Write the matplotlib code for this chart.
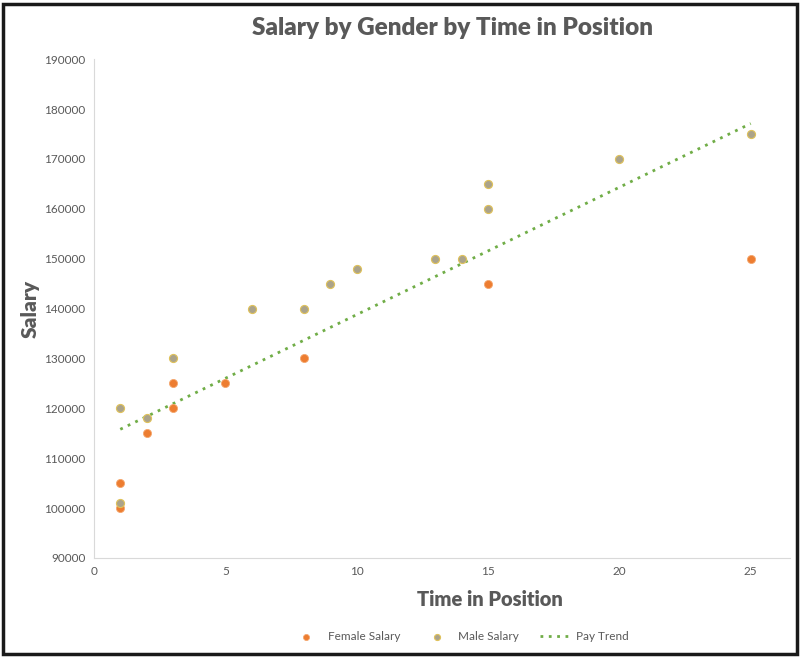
import matplotlib
matplotlib.use('Agg')
import matplotlib.pyplot as plt
from matplotlib.patches import Rectangle

# Values
female_years = [1, 1, 2, 3, 3, 5, 8, 15, 25]
female_salary = [100000, 105000, 115000, 120000, 125000, 125000, 130000, 145000, 150000]

male_years = [1, 1, 2, 3, 6, 8, 9, 10, 13, 14, 15, 15, 20, 25]
male_salary = [101000, 120000, 118000, 130000, 140000, 140000, 145000, 148000,
               150000, 150000, 160000, 165000, 170000, 175000]

# Trend line end points as drawn
trend_years = [1, 25]
trend_salary = [115800, 177100]

x_ticks = [0, 5, 10, 15, 20, 25]
y_ticks = list(range(90000, 190001, 10000))

plt.rcParams['font.family'] = ['Lato', 'DejaVu Sans']

fig = plt.figure(figsize=(8.02, 6.58), dpi=100)
ax = fig.add_axes([0.1172, 0.152, 0.868, 0.758])

ax.scatter(female_years, female_salary, s=34, color='#ED7D31',
           edgecolors='#F4A76E', linewidths=0.6, label='Female Salary', zorder=3)
ax.scatter(male_years, male_salary, s=34, color='#ABA38A',
           edgecolors='#E0C25A', linewidths=0.8, label='Male Salary', zorder=3)
ax.plot(trend_years, trend_salary, color='#70AD47', linestyle=(0, (1, 2)),
        linewidth=2, label='Pay Trend', zorder=2)

ax.set_xlim(0, 26.5)
ax.set_ylim(90000, 190000)
ax.set_xticks(x_ticks)
ax.set_yticks(y_ticks)
ax.tick_params(length=0, labelsize=8.5, colors='#595959', pad=6)

for side in ['top', 'right']:
    ax.spines[side].set_visible(False)
for side in ['left', 'bottom']:
    ax.spines[side].set_color('#D9D9D9')

fig.text(453 / 802, 1 - 28 / 658, 'Salary by Gender by Time in Position',
         fontsize=17.5, fontweight='heavy', color='#595959',
         ha='center', va='center')
ax.set_xlabel('Time in Position', fontsize=14.5, fontweight='heavy',
              color='#595959')
ax.xaxis.set_label_coords((490 - 94) / 696, -32 / 499)
ax.set_ylabel('Salary', fontsize=15, fontweight='heavy', color='#595959')
ax.yaxis.set_label_coords(-54 / 696, 0.5)

ax.legend(loc='center', bbox_to_anchor=((460 - 94) / 696, -79 / 499), ncol=3,
          frameon=False, fontsize=8.5, labelcolor='#595959', markerscale=0.75,
          handlelength=2.6, handletextpad=0.5, columnspacing=1.8)

# black frame around the picture
fig.patches.append(Rectangle((0.004, 0.006), 0.99, 0.988, transform=fig.transFigure,
                             fill=False, edgecolor='#1a1a1a', linewidth=2.5))

fig.savefig('out.png', dpi=100)
